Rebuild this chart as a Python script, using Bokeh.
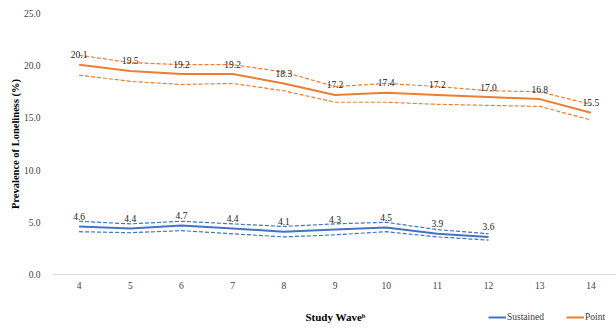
from bokeh.plotting import figure
from bokeh.layouts import column
from bokeh.models import (ColumnDataSource, Range1d, FixedTicker, NumeralTickFormatter,
                          Legend, LegendItem, Label)
from bokeh.embed import file_html
from bokeh.resources import INLINE

waves = [4, 5, 6, 7, 8, 9, 10, 11, 12, 13, 14]
point = [20.1, 19.5, 19.2, 19.2, 18.3, 17.2, 17.4, 17.2, 17.0, 16.8, 15.5]
point_upper = [21.0, 20.3, 20.1, 20.1, 19.4, 18.0, 18.3, 18.0, 17.6, 17.5, 16.3]
point_lower = [19.1, 18.5, 18.2, 18.3, 17.6, 16.5, 16.5, 16.3, 16.2, 16.1, 14.8]

sus_waves = [4, 5, 6, 7, 8, 9, 10, 11, 12]
sustained = [4.6, 4.4, 4.7, 4.4, 4.1, 4.3, 4.5, 3.9, 3.6]
sus_upper = [5.1, 4.85, 5.1, 4.85, 4.6, 4.85, 5.0, 4.3, 3.9]
sus_lower = [4.1, 4.0, 4.2, 3.9, 3.6, 3.8, 4.1, 3.6, 3.3]

y_ticks = [0, 5, 10, 15, 20, 25]

BLUE = "#4472C4"
ORANGE = "#ED7D31"
FONT = "Liberation Serif"
NAN = float("nan")

p = figure(width=616, height=305, output_backend="svg", toolbar_location=None,
           x_range=Range1d(3.5, 14.5), y_range=Range1d(0, 25),
           min_border_left=53, min_border_right=0, min_border_top=13, min_border_bottom=31)
p.outline_line_color = None
p.xgrid.visible = False
p.ygrid.visible = False
p.background_fill_color = "white"
p.border_fill_color = "white"

psrc = ColumnDataSource(dict(x=waves, y=point, up=point_upper, lo=point_lower,
                             t=["%.1f" % v for v in point]))
ssrc = ColumnDataSource(dict(x=sus_waves, y=sustained, up=sus_upper, lo=sus_lower,
                             t=["%.1f" % v for v in sustained]))

for src, col in ((ssrc, BLUE), (psrc, ORANGE)):
    p.line("x", "up", source=src, line_color=col, line_width=1.2, line_dash="4 2")
    p.line("x", "lo", source=src, line_color=col, line_width=1.2, line_dash="4 2")

p.line("x", "y", source=ssrc, line_color=BLUE, line_width=2)
p.line("x", "y", source=psrc, line_color=ORANGE, line_width=2)

for src in (ssrc, psrc):
    p.text("x", "y", text="t", source=src, text_font={"value": FONT}, text_font_size="9.5px",
           text_color="#1a1a1a", text_align="center", text_baseline="middle", y_offset=-10)

# axes
p.xaxis.ticker = FixedTicker(ticks=waves)
p.xaxis.axis_line_color = "#D9D9D9"
p.xaxis.major_tick_line_color = None
p.xaxis.minor_tick_line_color = None
p.xaxis.major_label_text_font = FONT
p.xaxis.major_label_text_font_size = "9.5px"
p.xaxis.major_label_text_color = "#404040"
p.xaxis.major_label_standoff = 1

p.yaxis.ticker = FixedTicker(ticks=y_ticks)
p.yaxis.formatter = NumeralTickFormatter(format="0.0")
p.yaxis.axis_line_color = None
p.yaxis.major_tick_line_color = None
p.yaxis.minor_tick_line_color = None
p.yaxis.major_label_text_font = FONT
p.yaxis.major_label_text_font_size = "9.5px"
p.yaxis.major_label_text_color = "#404040"
p.yaxis.major_label_standoff = 7
p.yaxis.axis_label = "Prevalence of Loneliness (%)"
p.yaxis.axis_label_text_font = FONT
p.yaxis.axis_label_text_font_style = "bold"
p.yaxis.axis_label_text_font_size = "10.5px"
p.yaxis.axis_label_text_color = "#000000"
p.yaxis.axis_label_standoff = 0

# bottom strip: x axis title and legend (frame aligned with the chart's frame, 53..616)
f2 = figure(width=616, height=24, output_backend="svg", toolbar_location=None,
            x_range=Range1d(53, 616), y_range=Range1d(0, 24),
            min_border=0, x_axis_type=None, y_axis_type=None)
f2.outline_line_color = None
f2.xgrid.visible = False
f2.ygrid.visible = False
l_s = f2.line(x=[NAN], y=[NAN], line_color=BLUE, line_width=2)
l_p = f2.line(x=[NAN], y=[NAN], line_color=ORANGE, line_width=2)

f2.add_layout(Label(x=335, y=13, text="Study Wave\u1d47", text_font=FONT, text_font_style="bold",
                    text_font_size="11px", text_color="#000000",
                    text_align="center", text_baseline="middle"))

legend = Legend(items=[LegendItem(label="Sustained", renderers=[l_s]),
                       LegendItem(label="Point", renderers=[l_p])],
                orientation="horizontal", location=(435, 5),
                label_text_font=FONT, label_text_font_size="9.5px", label_text_color="#404040",
                glyph_width=18, glyph_height=14, label_standoff=1, spacing=22,
                padding=0, margin=0, border_line_color=None, background_fill_alpha=0)
f2.add_layout(legend, "center")

open("out.html", "w").write(file_html(column(p, f2, spacing=0), INLINE))
